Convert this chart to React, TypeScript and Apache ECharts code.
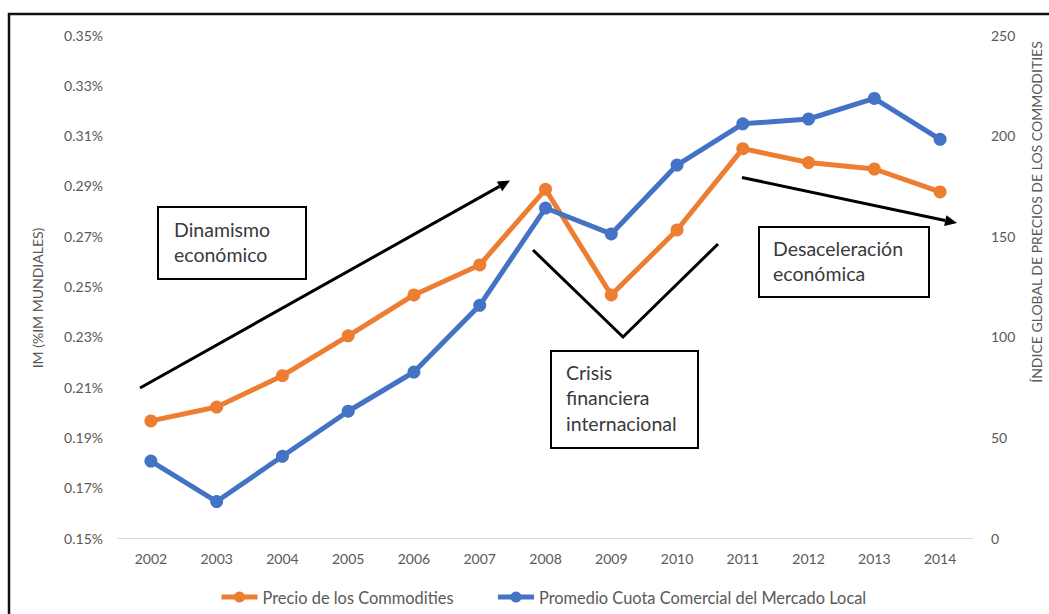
import React, { useEffect, useRef } from "react";
import * as echarts from "echarts";

const years = ["2002", "2003", "2004", "2005", "2006", "2007", "2008", "2009", "2010", "2011", "2012", "2013", "2014"];
// Índice global de precios de los commodities (right axis)
const commodityPrice = [58.2, 65.1, 80.7, 100.5, 120.8, 135.7, 173.3, 120.8, 153.1, 193.5, 186.6, 183.4, 172.0];
// IM (% IM mundiales), in percent (left axis)
const localMarketShare = [0.1806, 0.1645, 0.1825, 0.2004, 0.2160, 0.2425, 0.2812, 0.2709, 0.2983, 0.3147, 0.3166, 0.3248, 0.3085];

const seriesNames = ["Precio de los Commodities", "Promedio Cuota Comercial del Mercado Local"];
const leftAxisName = "IM (%IM MUNDIALES)";
const rightAxisName = "ÍNDICE GLOBAL DE PRECIOS DE LOS COMMODITIES";
const annotations = {
  dinamismo: ["Dinamismo", "económico"],
  crisis: ["Crisis", "financiera", "internacional"],
  desaceleracion: ["Desaceleración", "económica"],
};

const FONT = "Lato";
const TXT = "#595959";
const ORANGE = "#ED7D31";
const BLUE = "#4472C4";

export default function App() {
  const ref = useRef<HTMLDivElement>(null);
  useEffect(() => {
    if (!ref.current) return;
    const chart = echarts.init(ref.current, undefined, { renderer: "svg" });
    const annText = (x: number, y: number, lines: string[]) =>
      lines.map((l, i) => ({
        type: "text",
        x,
        y: y + i * 25.5,
        style: { text: l, fill: "#3a3a3a", font: `19.5px ${FONT}`, textVerticalAlign: "middle" },
        z: 100,
      }));
    const box = (x: number, y: number, w: number, h: number) => ({
      type: "rect",
      shape: { x, y, width: w, height: h },
      style: { fill: "#fff", stroke: "#000", lineWidth: 2 },
      z: 90,
    });
    const arrow = (x1: number, y1: number, x2: number, y2: number) => {
      const dx = x2 - x1, dy = y2 - y1;
      const len = Math.sqrt(dx * dx + dy * dy);
      const ux = dx / len, uy = dy / len;
      const bx = x2 - 12 * ux, by = y2 - 12 * uy;
      const px = -uy, py = ux;
      return [
        { type: "line", shape: { x1, y1, x2: bx, y2: by }, style: { stroke: "#000", lineWidth: 3 }, z: 80 },
        {
          type: "polygon",
          shape: { points: [[x2, y2], [bx + 5.5 * px, by + 5.5 * py], [bx - 5.5 * px, by - 5.5 * py]] },
          style: { fill: "#000" },
          z: 80,
        },
      ];
    };
    chart.setOption({
      animation: false,
      backgroundColor: "#fff",
      grid: { left: 118, right: 76, top: 35, bottom: 76 },
      legend: {
        bottom: 4,
        left: 214,
        itemWidth: 36,
        itemHeight: 14,
        itemGap: 42,
        lineStyle: { width: 5 },
        textStyle: { color: TXT, fontFamily: FONT, fontSize: 16.4 },
        data: seriesNames,
      },
      xAxis: {
        type: "category",
        data: years,
        boundaryGap: true,
        axisLine: { show: true, lineStyle: { color: "#D9D9D9", width: 1 } },
        axisTick: { show: false },
        axisLabel: { color: TXT, fontFamily: FONT, fontSize: 14, margin: 13 },
      },
      yAxis: [
        {
          type: "value",
          min: 0.15,
          max: 0.35,
          interval: 0.02,
          position: "left",
          axisLine: { show: false },
          axisTick: { show: false },
          splitLine: { show: false },
          axisLabel: {
            color: TXT,
            fontFamily: FONT,
            fontSize: 14,
            margin: 15,
            formatter: (v: number) => v.toFixed(2) + "%",
          },
        },
        {
          type: "value",
          min: 0,
          max: 250,
          interval: 50,
          position: "right",
          axisLine: { show: false },
          axisTick: { show: false },
          splitLine: { show: false },
          axisLabel: { color: TXT, fontFamily: FONT, fontSize: 14, margin: 18 },
        },
      ],
      series: [
        {
          name: seriesNames[0],
          type: "line",
          yAxisIndex: 1,
          data: commodityPrice,
          color: ORANGE,
          lineStyle: { width: 5, color: ORANGE },
          symbol: "circle",
          symbolSize: 13,
          itemStyle: { color: ORANGE },
        },
        {
          name: seriesNames[1],
          type: "line",
          yAxisIndex: 0,
          data: localMarketShare,
          color: BLUE,
          lineStyle: { width: 5, color: BLUE },
          symbol: "circle",
          symbolSize: 13,
          itemStyle: { color: BLUE },
        },
      ],
      graphic: [
        {
          type: "rect",
          shape: { x: 9, y: 14, width: 1200, height: 800 },
          style: { fill: "none", stroke: "#111", lineWidth: 2.5 },
          silent: true,
          z: 100,
        },
        {
          type: "text",
          x: 37,
          y: 298,
          rotation: Math.PI / 2,
          style: { text: leftAxisName, fill: TXT, font: `14px ${FONT}`, textAlign: "center", textVerticalAlign: "middle" },
        },
        {
          type: "text",
          x: 1036,
          y: 212,
          rotation: Math.PI / 2,
          style: { text: rightAxisName, fill: TXT, font: `14px ${FONT}`, textAlign: "center", textVerticalAlign: "middle" },
        },
        ...arrow(140, 388, 510, 180.5),
        { type: "polyline", shape: { points: [[533, 250], [623, 337], [718, 244]] }, style: { stroke: "#000", lineWidth: 3, fill: "none" }, z: 80 },
        ...arrow(742, 177.5, 957, 223),
        box(158, 207, 148, 72),
        ...annText(174, 229, annotations.dinamismo),
        box(551, 351, 147, 97),
        ...annText(566, 372, annotations.crisis),
        box(759, 227, 170, 70),
        ...annText(773, 248, annotations.desaceleracion),
      ],
    });
    return () => chart.dispose();
  }, []);
  return <div ref={ref} style={{ position: "fixed", left: 0, top: 0, width: 1049, height: 614 }} />;
}
